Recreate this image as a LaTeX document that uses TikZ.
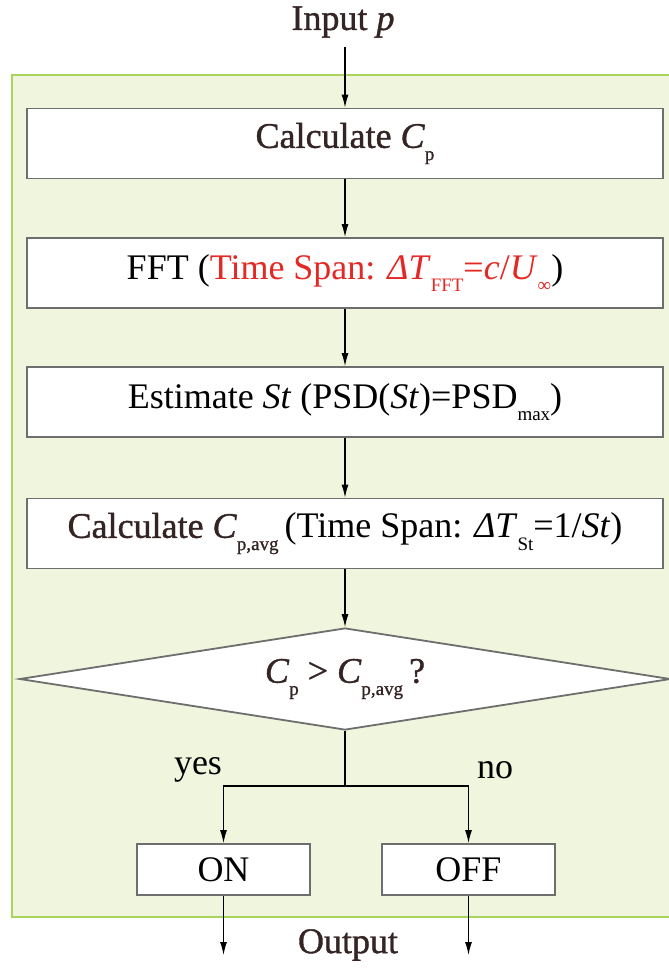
\documentclass[tikz,border=0pt]{standalone}
\usepackage{fontspec}
\setmainfont{LiberationSerif}[Extension=.ttf, UprightFont=*-Regular, ItalicFont=*-Italic, BoldFont=*-Bold, BoldItalicFont=*-BoldItalic]
\newfontfamily\heavy{LiberationSerif}[Extension=.ttf, UprightFont=*-Regular, ItalicFont=*-Italic, FakeBold=1]
\usetikzlibrary{arrows.meta,shapes.geometric}
\definecolor{gfill}{RGB}{240,245,222}
\definecolor{gline}{RGB}{172,212,92}
\definecolor{boxline}{RGB}{110,110,110}
\definecolor{redtxt}{RGB}{228,40,36}
\definecolor{darktxt}{RGB}{52,36,36}
\newcommand\sbs[1]{\raisebox{-0.34em}{\fontsize{19}{19}\selectfont #1}}
\tikzset{
  txt/.style={font=\fontsize{36}{42}\selectfont, inner sep=0pt},
  procbox/.style={txt, draw=boxline, line width=1.8pt, fill=white, minimum width=636pt, minimum height=70pt},
  smallbox/.style={txt, draw=boxline, line width=1.8pt, fill=white, minimum width=173pt, minimum height=51pt},
  decbox/.style={txt, draw=boxline, line width=1.8pt, fill=white, diamond, minimum width=651pt, minimum height=102pt, shape aspect=6.4},
  arr/.style={-{Latex[length=13pt,width=7pt]}, line width=1.2pt},
  ln/.style={line width=1.2pt}
}
\begin{document}
\begin{tikzpicture}[x=1pt,y=-1pt]
\useasboundingbox (0,0) rectangle (669,969);
\fill[white] (0,0) rectangle (669,969);
\draw[gline, fill=gfill, line width=2pt] (12,75) rectangle (690,917);

\node[txt] (inp) at (343,22) {\heavy\color{darktxt}Input \textit{p}};
\coordinate (inpe) at (345,47);

\node[procbox] (b1) at (345,143.5) {\heavy\color{darktxt}Calculate \textit{C}\sbs{p}};
\node[procbox] (b2) at (345,273) {FFT ({\color{redtxt}Time Span: \textit{ΔT}\sbs{FFT}=\textit{c}/\textit{U}\sbs{∞}})};
\node[procbox] (b3) at (345,402) {Estimate \textit{St} (PSD(\textit{St})=PSD\sbs{max})};
\node[procbox] (b4) at (345,533.5) {{\heavy\color{darktxt}Calculate \textit{C}\sbs{p,avg}}\,(Time Span: \textit{ΔT}\sbs{St}=1/\textit{St})};
\node[decbox] (d) at (345,679) {\heavy\color{darktxt}\textit{C}\sbs{p} > \textit{C}\sbs{p,avg}\,?};
\coordinate (br) at (345,786);
\node[smallbox] (on) at (223.5,869.5) {ON};
\node[smallbox] (off) at (468.5,869.5) {OFF};
\node[txt] at (198,770) {yes};
\node[txt] at (495,770) {no};
\coordinate (outL) at (223.5,955);
\coordinate (outR) at (468.5,955);
\node[txt] (out) at (348,945) {\heavy\color{darktxt}Output};

\draw[arr] (inpe) -- (b1);
\draw[arr] (b1) -- (b2);
\draw[arr] (b2) -- (b3);
\draw[arr] (b3) -- (b4);
\draw[arr] (b4) -- (d);
\draw[ln] (d.south) -- (br);
\draw[arr] (br) -| (on);
\draw[arr] (br) -| (off);
\draw[arr] (on) -- (outL);
\draw[arr] (off) -- (outR);
\end{tikzpicture}
\end{document}
